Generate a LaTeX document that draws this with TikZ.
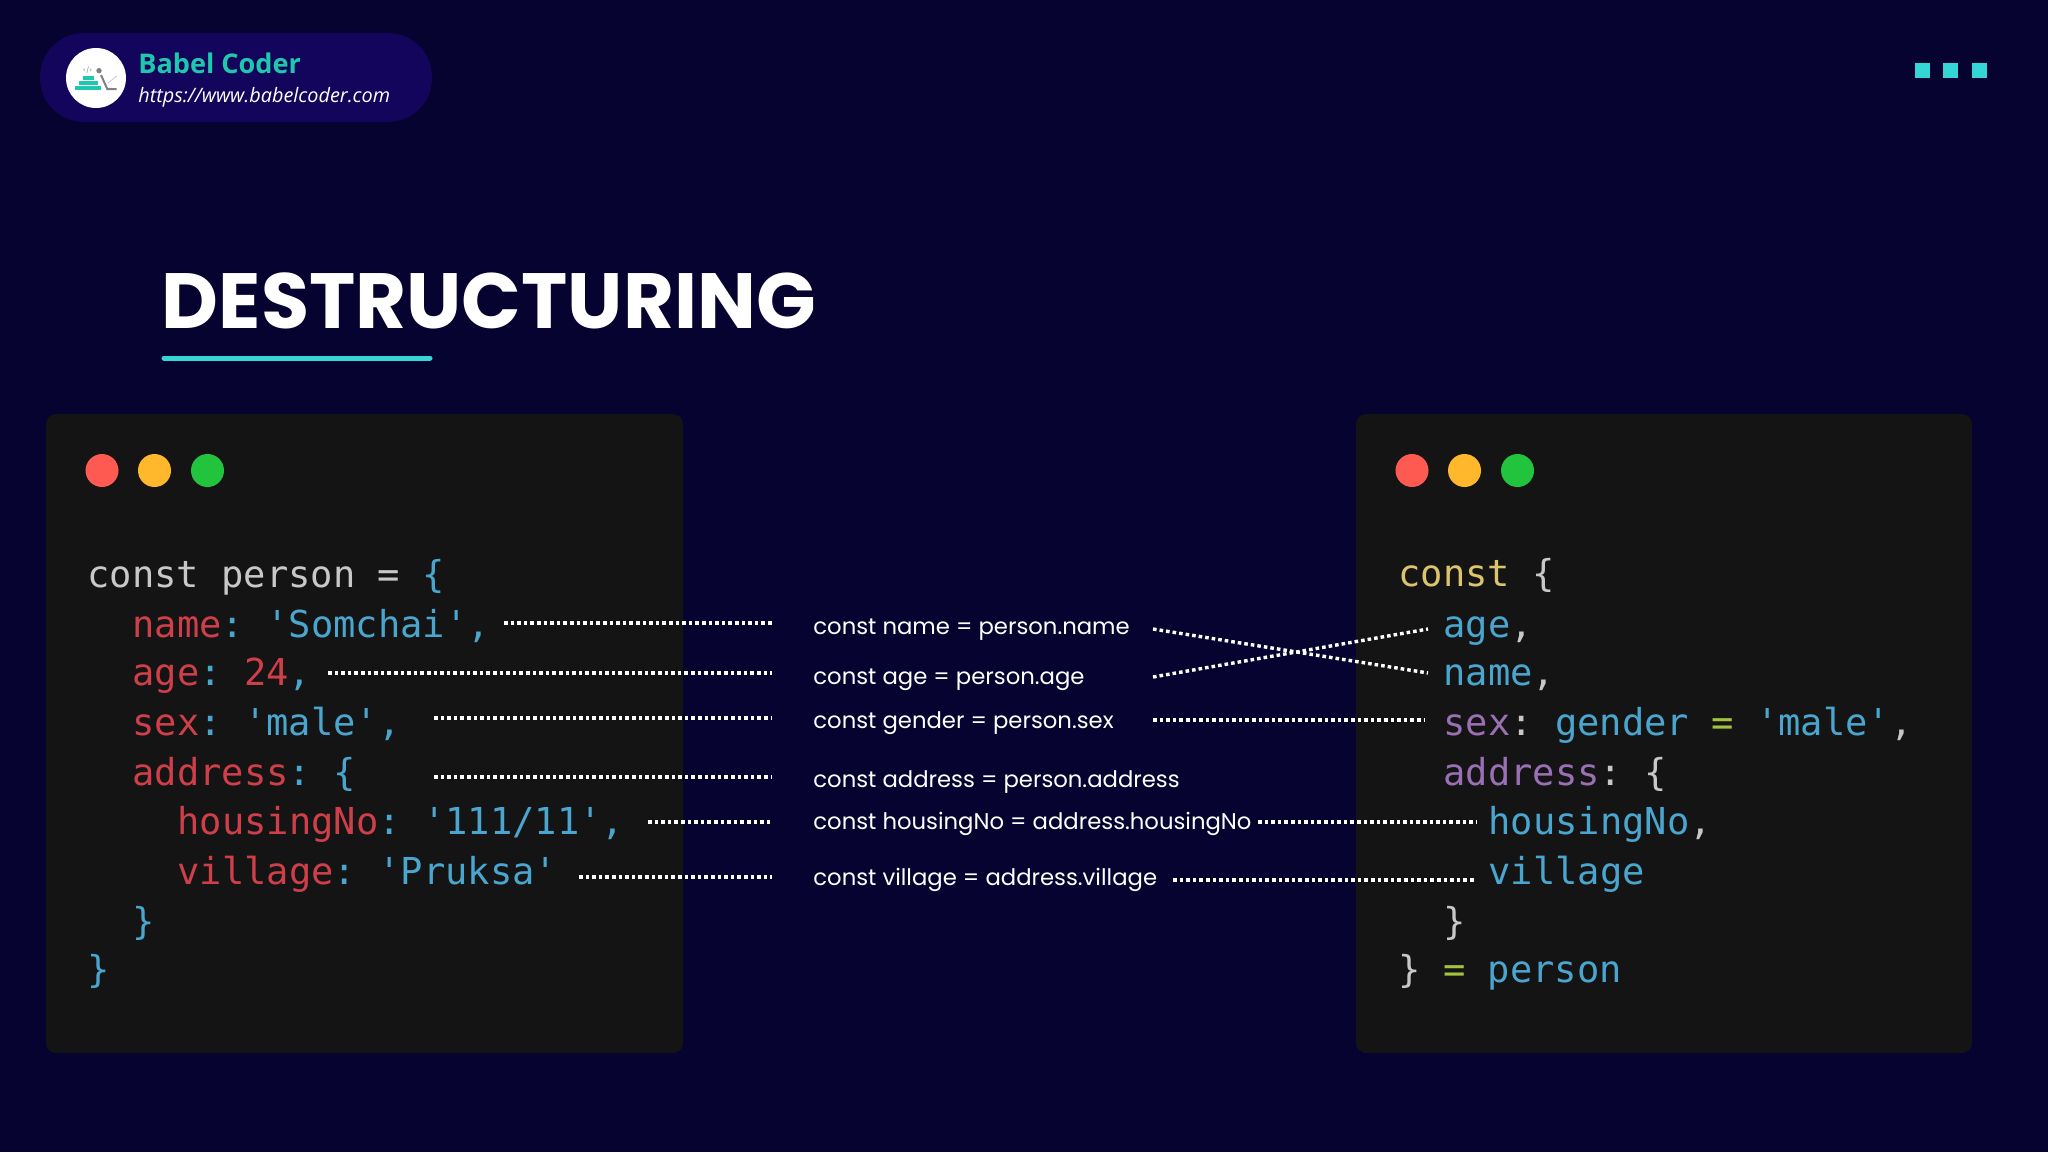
\documentclass[tikz,border=0pt]{standalone}
\usepackage{fontspec}
\setmainfont{Poppins}
\setmonofont{DejaVu Sans Mono}
\newfontfamily\brandfont{Open Sans}
\usetikzlibrary{positioning}

\definecolor{bgdark}{HTML}{060330}
\definecolor{pillblue}{HTML}{14055C}
\definecolor{teal}{HTML}{1FC8AC}
\definecolor{cyanmark}{HTML}{35D6D6}
\definecolor{panel}{HTML}{141414}
\definecolor{cplain}{HTML}{C8C8C8}
\definecolor{cred}{HTML}{CE3F4A}
\definecolor{cblue}{HTML}{4AA6CE}
\definecolor{cyellow}{HTML}{DAC46C}
\definecolor{cpurple}{HTML}{9A70B5}
\definecolor{cgreen}{HTML}{A3C23F}

\newcommand{\kp}[1]{\textcolor{cplain}{#1}}
\newcommand{\kr}[1]{\textcolor{cred}{#1}}
\newcommand{\kb}[1]{\textcolor{cblue}{#1}}
\newcommand{\ky}[1]{\textcolor{cyellow}{#1}}
\newcommand{\km}[1]{\textcolor{cpurple}{#1}}
\newcommand{\kg}[1]{\textcolor{cgreen}{#1}}

\tikzset{
  window/.style={fill=panel,rounded corners=5pt},
  codeline/.style={anchor=base west,inner sep=0pt,text=cplain,font=\ttfamily\fontsize{18.55}{20}\selectfont},
  bindlabel/.style={anchor=base west,inner sep=0pt,text=white,font=\fontsize{11.37}{14}\selectfont},
  dotline/.style={white,line width=1.7pt,dash pattern=on 1.8pt off 1.5pt},
}

\begin{document}
\begin{tikzpicture}[x=0.5pt,y=-0.5pt]
  \fill [bgdark] (0,0) rectangle (2048,1152);
  \useasboundingbox (0,0) rectangle (2048,1152);

  % header
  \fill [pillblue,rounded corners=22pt] (40,33) rectangle (432,122);
  \fill [white] (96,78) circle [radius=30];
  \fill [teal] (75,85.7) rectangle (101,90);
  \fill [teal] (78.5,80.7) rectangle (97.5,85);
  \fill [teal] (82.5,76) rectangle (94,80);
  \fill [gray] (99,70.7) circle [radius=2.7];
  \draw [gray,line width=1pt] (101,75) -- (107.3,89) -- (116.7,89);
  \draw [lightgray,line width=0.3pt] (108,83) -- (116.7,76);
  \node (logotag) at (87.7,70.3) [inner sep=0pt,text=gray,font=\fontsize{3}{3}\selectfont] {</>};
  \node (brand) at (138,73) [anchor=base west,inner sep=0pt,text=teal,font=\brandfont\bfseries\fontsize{13.55}{16}\selectfont] {Babel Coder};
  \node (site) at (138,102) [anchor=base west,inner sep=0pt,text=white,font=\brandfont\itshape\fontsize{9.92}{13}\selectfont] {https://www.babelcoder.com};

  \foreach \x in {1915,1943,1972} {
    \fill [cyanmark] (\x,63) rectangle (\x+15,78);
  }

  % title
  \node (title) at (161.5,328) [anchor=base west,inner sep=0pt,text=white,font=\bfseries\fontsize{39.15}{44}\selectfont] {DESTRUCTURING};
  \draw [cyanmark,line width=2.5pt,line cap=round] (164,358) -- (430,358);

  % windows
  \fill [window] (46,414) rectangle (683,1053);
  \fill [window] (1356,414) rectangle (1972,1053);
  \foreach \x in {102,1412} {
    \fill [color={rgb,255:red,255;green,90;blue,82}] (\x,470.5) circle [radius=16.5];
    \fill [color={rgb,255:red,255;green,183;blue,43}] (\x+52.5,470.5) circle [radius=16.5];
    \fill [color={rgb,255:red,34;green,196;blue,62}] (\x+105.5,470.5) circle [radius=16.5];
  }

  % left code
  \node (personL) at (87,587) [codeline] {const person = \kb{\{}};
  \node (nameL) at (132,637) [codeline] {\kr{name}\kb{: 'Somchai',}};
  \node (ageL) at (132,685) [codeline] {\kr{age}\kb{:} \kr{24}\kb{,}};
  \node (sexL) at (132,735) [codeline] {\kr{sex}\kb{: 'male',}};
  \node (addressL) at (132,785) [codeline] {\kr{address}\kb{: \{}};
  \node (housingL) at (177,834) [codeline] {\kr{housingNo}\kb{: '111/11',}};
  \node (villageL) at (177,884) [codeline] {\kr{village}\kb{: 'Pruksa'}};
  \node (closeinL) at (132,934) [codeline] {\kb{\}}};
  \node (closeL) at (87,982) [codeline] {\kb{\}}};

  % right code
  \node (constR) at (1398,586) [codeline] {\ky{const} \{};
  \node (ageR) at (1443,637) [codeline] {\kb{age}\kp{,}};
  \node (nameR) at (1443,685) [codeline] {\kb{name}\kp{,}};
  \node (sexR) at (1443,735) [codeline] {\km{sex}\kp{:} \kb{gender} \kg{=} \kb{'male'}\kp{,}};
  \node (addressR) at (1443,785) [codeline] {\km{address}\kp{:} \{};
  \node (housingR) at (1488,834) [codeline] {\kb{housingNo}\kp{,}};
  \node (villageR) at (1488,884) [codeline] {\kb{village}};
  \node (closeinR) at (1443,934) [codeline] {\}};
  \node (closeR) at (1398,982) [codeline] {\} \kg{=} \kb{person}};

  % middle labels
  \node (nameB) at (813,634) [bindlabel] {const name = person.name};
  \node (ageB) at (813,684) [bindlabel] {const age = person.age};
  \node (genderB) at (813,728) [bindlabel] {const gender = person.sex};
  \node (addressB) at (813,787) [bindlabel] {const address = person.address};
  \node (housingB) at (813,829) [bindlabel] {const housingNo = address.housingNo};
  \node (villageB) at (813,885) [bindlabel] {const village = address.village};

  % free ends of the dotted lines
  \foreach \nm/\xa/\ya/\yb in {name/504/623/623, age/328/673/673, sex/434/718/718,
      address/434/777/777, housing/648/822/822, village/579/877/877} {
    \coordinate (\nm a) at (\xa,\ya);
    \coordinate (\nm b) at (772,\yb);
  }
  \foreach \nm/\xa/\ya/\xb/\yb in {name/1153/629/1428/673, age/1153/677/1428/629, sex/1153/720/1424/720,
      housing/1258/822/1476/822, village/1173/880/1476/880} {
    \coordinate (\nm c) at (\xa,\ya);
    \coordinate (\nm d) at (\xb,\yb);
  }

  \foreach \nm in {name, age, sex, address, housing, village} {
    \draw [dotline] (\nm a) -- (\nm b);
  }
  \foreach \nm in {name, age, sex, housing, village} {
    \draw [dotline] (\nm c) -- (\nm d);
  }
\end{tikzpicture}
\end{document}
